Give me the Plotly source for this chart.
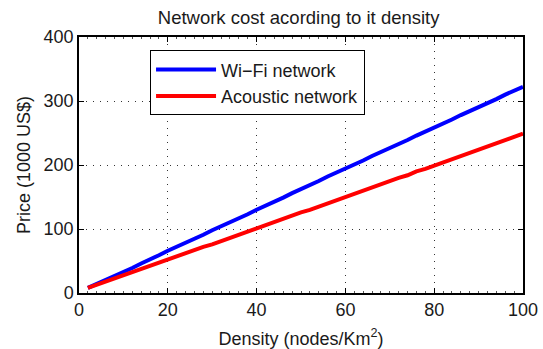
import plotly.graph_objects as go

density = [2, 4, 6, 8, 10, 12, 14, 16, 18, 20, 22, 24, 26, 28, 30, 32, 34, 36, 38, 40,
           42, 44, 46, 48, 50, 52, 54, 56, 58, 60, 62, 64, 66, 68, 70, 72, 74, 76, 78, 80,
           82, 84, 86, 88, 90, 92, 94, 96, 98, 100]
wifi_cost = [8, 14, 20, 27, 33, 39, 46, 52, 59, 66, 72, 78, 85, 91, 98, 104, 110, 117, 123, 130,
             136, 143, 149, 156, 162, 169, 175, 182, 188, 195, 201, 207, 214, 220, 227, 233, 239, 246, 252, 259,
             265, 271, 278, 284, 290, 297, 303, 310, 316, 322]
acoustic_cost = [8, 13, 17, 22, 28, 32, 37, 42, 48, 53, 57, 62, 67, 72, 76, 81, 87, 91, 96, 102,
                 106, 111, 116, 121, 126, 130, 135, 140, 145, 150, 156, 160, 165, 170, 175, 180, 184, 190, 194, 199,
                 204, 209, 214, 218, 223, 228, 233, 238, 243, 249]
x_ticks = [0, 20, 40, 60, 80, 100]
y_ticks = [0, 100, 200, 300, 400]

font = "Liberation Sans, Arial, sans-serif"
txt = "#1a1a1a"

fig = go.Figure()
fig.add_trace(go.Scatter(x=density, y=wifi_cost, mode="lines", name="Wi\u2212Fi network",
                         line=dict(color="#0000ff", width=4)))
fig.add_trace(go.Scatter(x=density, y=acoustic_cost, mode="lines", name="Acoustic network",
                         line=dict(color="#ff0000", width=4)))

axis_common = dict(
    showline=True, linecolor="black", linewidth=1.5, mirror="allticks",
    ticks="inside", ticklen=5, tickcolor="black", automargin=False,
    showgrid=True, gridcolor="#333333", griddash="1px,6px", gridwidth=1,
    zeroline=False, tickfont=dict(size=18, color=txt, family=font),
)

fig.update_xaxes(range=[0, 100], tickvals=x_ticks,
                 title=dict(text="Density (nodes/Km<sup>2</sup>)", font=dict(size=18, color=txt, family=font), standoff=14),
                 minor=dict(ticks="inside", ticklen=2, dtick=2, tickcolor="#555555", showgrid=False),
                 **axis_common)
fig.update_yaxes(range=[0, 400], tickvals=y_ticks,
                 title=dict(text="Price (1000 US$)", font=dict(size=18, color=txt, family=font), standoff=8),
                 **axis_common)

fig.update_layout(
    width=543, height=349,
    margin=dict(l=79, r=20, t=37, b=56),
    paper_bgcolor="white", plot_bgcolor="white",
    title=dict(text="Network cost acording to it density", x=0.55, xanchor="center",
               y=0.95, yanchor="middle", font=dict(size=18.5, color=txt, family=font)),
    legend=dict(x=0.16, y=0.948, xanchor="left", yanchor="top",
                bordercolor="black", borderwidth=1, bgcolor="white",
                font=dict(size=18, color=txt, family=font),
                itemwidth=60, tracegroupgap=0),
    showlegend=True,
)

fig.write_html("out.html")
